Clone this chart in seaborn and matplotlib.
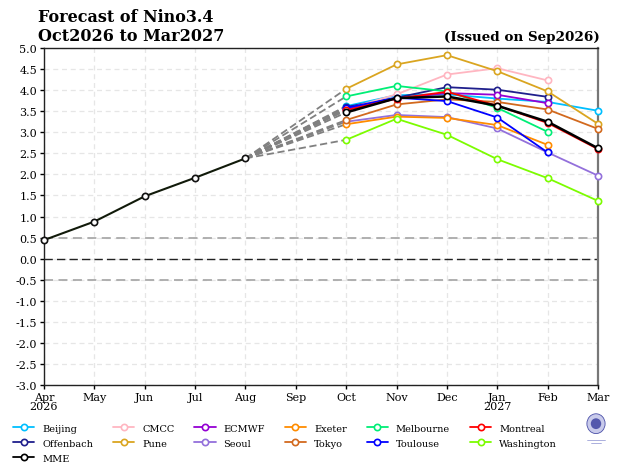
import matplotlib
matplotlib.use("Agg")
import matplotlib.pyplot as plt
import seaborn as sns
import pandas as pd
import numpy as np
from matplotlib.lines import Line2D
from matplotlib.patches import Ellipse

sns.set_theme(style="white")
plt.rcParams['font.family'] = ['DejaVu Serif']
plt.rcParams['text.color'] = 'black'

months = ["Apr\n2026", "May", "Jun", "Jul", "Aug", "Sep", "Oct", "Nov", "Dec", "Jan\n2027", "Feb", "Mar"]
obs_values = [0.44, 0.88, 1.48, 1.92, 2.38]

models = ["Beijing", "Offenbach", "MME", "CMCC", "Pune", "ECMWF", "Seoul",
          "Exeter", "Tokyo", "Melbourne", "Toulouse", "Montreal", "Washington"]
colors = ["#00BFFF", "#1F1F8C", "#000000", "#FFB6C1", "#DAA520", "#9400D3", "#9370DB",
          "#FF8C00", "#D2691E", "#00EE76", "#0000FF", "#FF0000", "#7CFC00"]
# Forecasts for Oct, Nov, Dec, Jan, Feb, Mar (None = no value)
beijing    = [3.62, 3.88, 3.90, 3.80, 3.72, 3.51]
offenbach  = [3.60, 3.82, 4.07, 4.01, 3.84, None]
mme        = [3.47, 3.81, 3.85, 3.63, 3.25, 2.62]
cmcc       = [3.55, 3.90, 4.37, 4.52, 4.23, None]
pune       = [4.03, 4.61, 4.83, 4.45, 3.97, 3.20]
ecmwf      = [3.55, 3.80, 3.93, 3.89, 3.69, None]
seoul      = [3.25, 3.41, 3.36, 3.09, 2.52, 1.97]
exeter     = [3.19, 3.37, 3.34, 3.17, 2.70, None]
tokyo      = [3.29, 3.66, 3.78, 3.72, 3.54, 3.08]
melbourne  = [3.85, 4.10, 3.97, 3.58, 3.01, None]
toulouse   = [3.58, 3.82, 3.74, 3.35, 2.52, None]
montreal   = [3.52, 3.80, 3.96, 3.63, 3.22, 2.60]
washington = [2.82, 3.32, 2.94, 2.36, 1.91, 1.37]
forecasts = [beijing, offenbach, mme, cmcc, pune, ecmwf, seoul, exeter, tokyo,
             melbourne, toulouse, montreal, washington]

fig = plt.figure(figsize=(6.24, 4.77), dpi=100)
ax = fig.add_axes([44/624, 1-386/477, (598-44)/624, (386-49)/477])

# grid
for i in range(12):
    ax.axvline(i, color="#e6e6e6", lw=0.9, ls=(0, (4, 3)), zorder=0)
for v in np.arange(-3.0, 5.01, 0.5):
    ax.axhline(v, color="#e6e6e6", lw=0.9, ls=(0, (4, 3)), zorder=0)
ax.axhline(0.5, color="#aaaaaa", lw=1.3, ls=(0, (5, 3)), zorder=1)
ax.axhline(-0.5, color="#aaaaaa", lw=1.3, ls=(0, (5, 3)), zorder=1)
ax.axhline(0.0, color="#222222", lw=1.0, ls=(0, (6, 3)), zorder=1)

fx = list(range(6, 12))
# dashed connectors from Aug
for vals in forecasts:
    sns.lineplot(x=[4, 6], y=[obs_values[-1], vals[0]], ax=ax, color="#808080",
                 lw=1.3, linestyle=(0, (4, 2)), zorder=2, legend=False)

handles = []
draw_order = [m for m in range(len(models)) if models[m] != "MME"] + [models.index("MME")]
for i in draw_order:
    vals = forecasts[i]
    xs = [x for x, v in zip(fx, vals) if v is not None]
    ys = [v for v in vals if v is not None]
    c = colors[i]
    lw = 1.8 if models[i] == "MME" else 1.3
    sns.lineplot(x=xs, y=ys, ax=ax, color=c, lw=lw, marker="o", markersize=4.5,
                 markerfacecolor="white", markeredgecolor=c, markeredgewidth=1.2,
                 zorder=4 if models[i] == "MME" else 3, legend=False, clip_on=False)
for i in range(len(models)):
    c = colors[i]
    handles.append(Line2D([0], [0], color=c, lw=1.3, marker="o", markersize=4.5,
                          markerfacecolor="white", markeredgecolor=c, markeredgewidth=1.2,
                          label=models[i]))

# observations
sns.lineplot(x=list(range(5)), y=obs_values, ax=ax, color="#111a0a", lw=1.5, marker="o",
             markersize=4.5, markerfacecolor="white", markeredgecolor="#111111",
             markeredgewidth=1.2, zorder=5, legend=False, clip_on=False)

ax.set_xlim(0, 11)
ax.set_ylim(-3.0, 5.0)
ax.set_xticks(range(12))
ax.set_xticklabels(months, fontsize=8, linespacing=0.9)
ax.set_yticks(np.arange(-3.0, 5.01, 0.5))
ax.set_yticklabels([f"{v:.1f}" for v in np.arange(-3.0, 5.01, 0.5)], fontsize=8)
ax.tick_params(axis="both", direction="out", length=3, width=1, pad=2, colors="black")
ax.tick_params(axis="both", bottom=True, left=True)
ax.set_xlabel("")
ax.set_ylabel("")
for s in ["left", "bottom", "top"]:
    ax.spines[s].set_color("#222222")
    ax.spines[s].set_linewidth(1.0)
ax.spines["right"].set_color("#777777")
ax.spines["right"].set_linewidth(1.6)

fig.text(38/624, 1-9/477, "Forecast of Nino3.4\nOct2026 to Mar2027", ha="left", va="top",
         fontsize=11.5, fontweight="bold", linespacing=1.15, color="black")
fig.text(600/624, 1-41/477, "(Issued on Sep2026)", ha="right", va="baseline",
         fontsize=9.7, fontweight="bold", color="black")

fig.legend(handles=handles, ncol=6, loc="upper left", bbox_to_anchor=(8/624, 1-420/477),
           frameon=False, fontsize=7, handlelength=2.2, handletextpad=0.8,
           columnspacing=2.05, labelspacing=0.6, borderpad=0)

# small emblem (approximation of logo)
lax = fig.add_axes([583/624, 1-447/477, 26/624, 36/477])
lax.set_xlim(0, 1); lax.set_ylim(0, 1); lax.axis("off")
lax.add_patch(Ellipse((0.5, 0.62), 0.7, 0.55, facecolor="#c9cbeb", edgecolor="#4a4fa8", lw=0.6))
lax.add_patch(Ellipse((0.5, 0.62), 0.4, 0.3, facecolor="#5358ad", edgecolor="none"))
lax.plot([0.15, 0.85], [0.18, 0.18], color="#8a8fd0", lw=0.5)
lax.plot([0.3, 0.7], [0.08, 0.08], color="#8a8fd0", lw=0.5)

fig.savefig("out.png", dpi=100)
